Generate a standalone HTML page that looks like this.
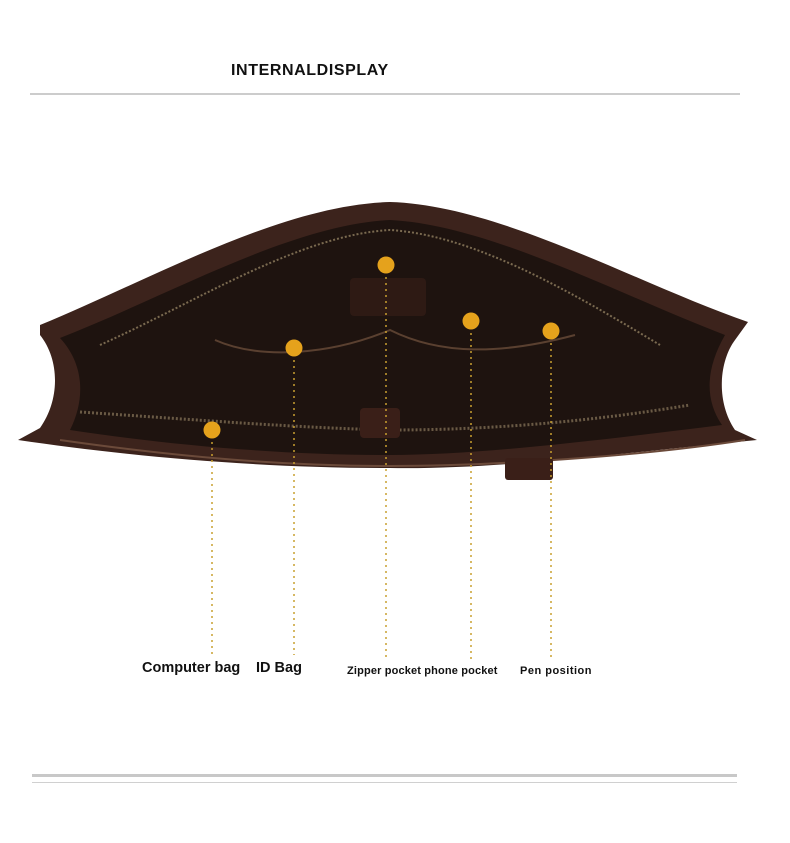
<!DOCTYPE html>
<html><head><style>
html,body{margin:0;padding:0;background:#fff;width:790px;height:843px;overflow:hidden}
svg{display:block}
text{font-family:"Liberation Sans",sans-serif;font-weight:bold;fill:#111}
</style></head><body>
<svg width="790" height="843" viewBox="0 0 790 843">
<text x="231" y="75" font-size="16" letter-spacing="0.6">INTERNALDISPLAY</text>
<line x1="30" y1="94" x2="740" y2="94" stroke="#999" stroke-width="1"/>
<path d="M40,325 C150,280 280,205 390,202 C500,205 640,285 748,322 L735,340 C720,360 715,400 735,430 L757,440 C650,450 500,470 390,468 C250,468 120,455 18,440 L40,428 C60,400 60,360 40,335 Z" fill="#3c231c"/>
<path d="M60,338 C170,295 290,225 390,220 C490,225 620,295 725,335 C705,370 705,400 722,425 C600,440 480,455 390,455 C280,455 170,445 70,430 C85,400 85,365 60,338 Z" fill="#1e130f"/>
<path d="M100,345 C200,300 300,235 390,230 C470,235 560,285 660,345" fill="none" stroke="#7a6a50" stroke-width="2" stroke-dasharray="2 2"/>
<path d="M80,412 C200,420 300,428 390,430 C500,430 600,420 690,405" fill="none" stroke="#6a5a45" stroke-width="3" stroke-dasharray="2 2"/>
<path d="M60,440 C200,460 300,466 390,466 C500,466 650,455 745,440" fill="none" stroke="#6b4a3a" stroke-width="2"/>
<path d="M215,340 C260,360 330,355 390,330 C440,355 500,355 575,335" fill="none" stroke="#5a4030" stroke-width="2"/>
<rect x="350" y="278" width="76" height="38" rx="4" fill="#2e1a14"/>
<rect x="360" y="408" width="40" height="30" rx="4" fill="#3a1f18"/>
<rect x="505" y="458" width="48" height="22" rx="3" fill="#3a1f18"/>
<g stroke="#c9a030" stroke-width="1.5" stroke-dasharray="2 4" fill="none">
<line x1="212" y1="430" x2="212" y2="655"/>
<line x1="294" y1="348" x2="294" y2="655"/>
<line x1="386" y1="265" x2="386" y2="660"/>
<line x1="471" y1="321" x2="471" y2="660"/>
<line x1="551" y1="331" x2="551" y2="657"/>
</g>
<g fill="#e5a21c">
<circle cx="212" cy="430" r="8.5"/>
<circle cx="294" cy="348" r="8.5"/>
<circle cx="386" cy="265" r="8.5"/>
<circle cx="471" cy="321" r="8.5"/>
<circle cx="551" cy="331" r="8.5"/>
</g>
<text x="142" y="672" font-size="14.5">Computer bag</text>
<text x="256" y="672" font-size="14.5">ID Bag</text>
<text x="347" y="674" font-size="11" letter-spacing="0.15">Zipper pocket phone pocket</text>
<text x="520" y="674" font-size="11" letter-spacing="0.5">Pen position</text>
<rect x="32" y="774" width="705" height="3" fill="#c8c8c8"/>
<rect x="32" y="782" width="705" height="1" fill="#d0d0d0"/>
</svg>
</body></html>
